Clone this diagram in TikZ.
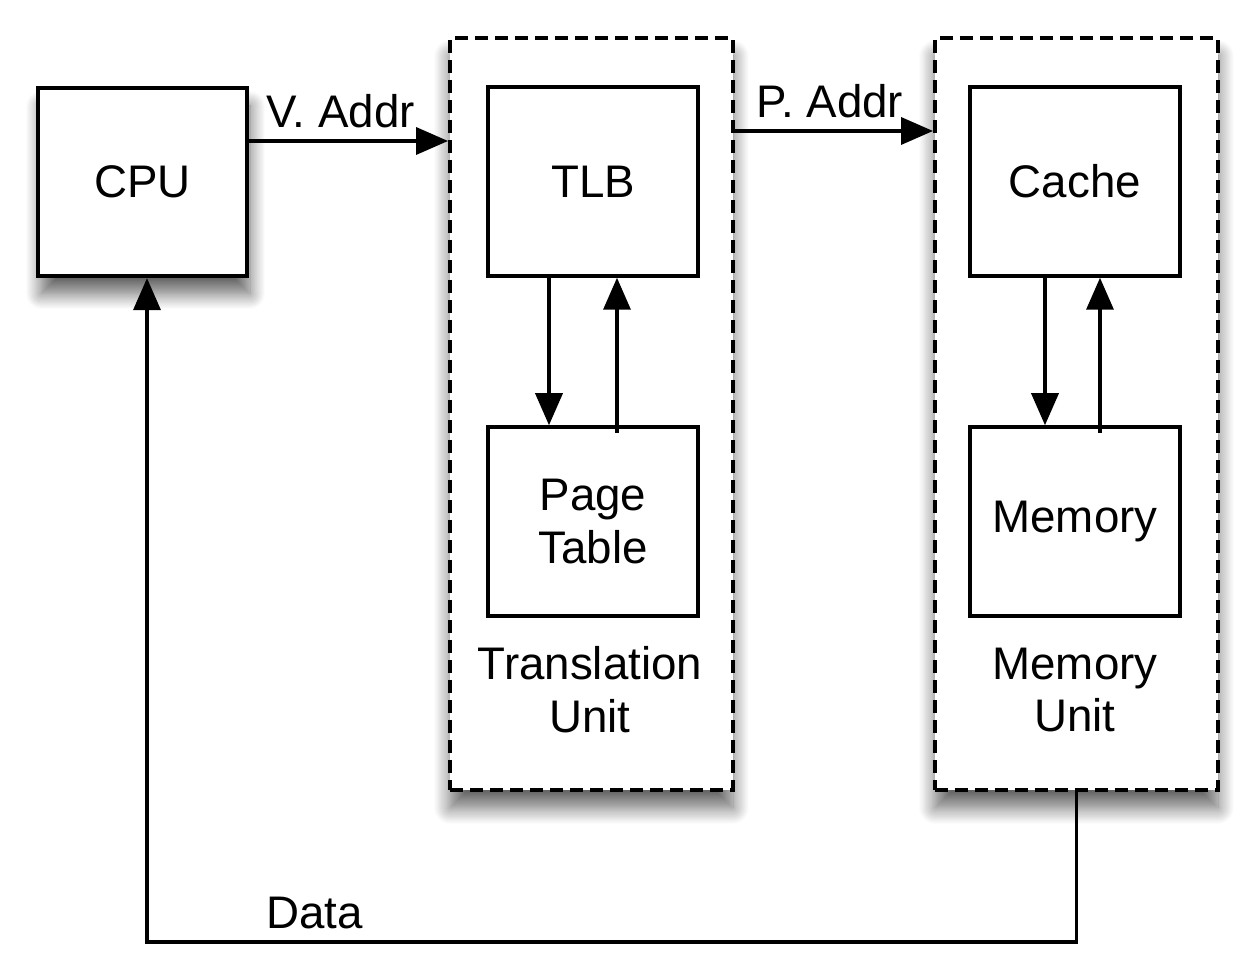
\documentclass[tikz,border=0pt]{standalone}
\usepackage{fontspec}
\setmainfont{Liberation Sans}
\usepackage{tikz}
\usetikzlibrary{arrows.meta,shadows.blur,positioning}

\begin{document}
\begin{tikzpicture}[font=\fontsize{13}{15}\selectfont]

           \tikzstyle{every edge}=[draw,line width=1pt,-{Triangle[length=3.2mm,width=2.7mm]}]
           \tikzstyle{block}=[draw,fill=white,line width=1pt,minimum width=2.1cm,minimum height=1.89cm,align=center,inner sep=0pt]
           \tikzstyle{unit}=[draw,fill=white,line width=1.1pt,dash pattern=on 1.3mm off 0.7mm,minimum width=2.83cm,minimum height=7.52cm,blur shadow={shadow xshift=0mm,shadow yshift=-1.8mm,shadow blur radius=1.6mm,shadow blur steps=14,shadow opacity=60}]

    \useasboundingbox (0,0) rectangle (12.46,9.58);

    % units
    \node[unit] (TU) at (5.915,5.44) {};
    \node[unit] (MU) at (10.765,5.44) {};
    \node[block, line width=1.2pt, minimum width=2.09cm, minimum height=1.88cm, blur shadow={shadow xshift=0.3mm,shadow yshift=-1.8mm,shadow blur radius=1.5mm,shadow blur steps=14,shadow opacity=60}] (CPU) at (1.425,7.76) {CPU};

    \node[block] (TLB) at (5.93,7.765) {TLB};
    \node[block] (PT) at (5.93,4.365) {Page\\Table};
    \node[align=center] (TUname) at (5.90,2.68) {Translation\\Unit};
    \node[block] (C) at (10.75,7.765) {Cache};
    \node[block] (M) at (10.75,4.365) {Memory};
    \node[align=center] (MUname) at (10.75,2.68) {Memory\\Unit};

    % addresses
    \coordinate (va) at ([yshift=4.1mm]CPU.east);
    \coordinate (pa) at ([yshift=2.83cm]TU.east);
    \path (va) edge node[above=0pt,xshift=-0.8mm] {V. Addr} (va -| TU.west);
    \path (pa) edge node[above=0pt,xshift=-0.4mm] {P. Addr} (pa -| MU.west);

    \path ([xshift=-4.4mm]TLB.south) edge ([xshift=-4.4mm]PT.north);
    \path ([xshift=2.4mm,yshift=-0.8mm]PT.north) edge ([xshift=2.4mm]TLB.south);
    \path ([xshift=-3mm]C.south) edge ([xshift=-3mm]M.north);
    \path ([xshift=2.5mm,yshift=-0.8mm]M.north) edge ([xshift=2.5mm]C.south);

    % data back to the cpu
    \coordinate (dbot) at (1.47,0.16);
    \draw[line width=1pt,-{Triangle[length=3.2mm,width=2.7mm]}] (MU.south) |- node[pos=0.91,above] {Data} (dbot) -- (dbot |- CPU.south);
 \end{tikzpicture}
\end{document}
